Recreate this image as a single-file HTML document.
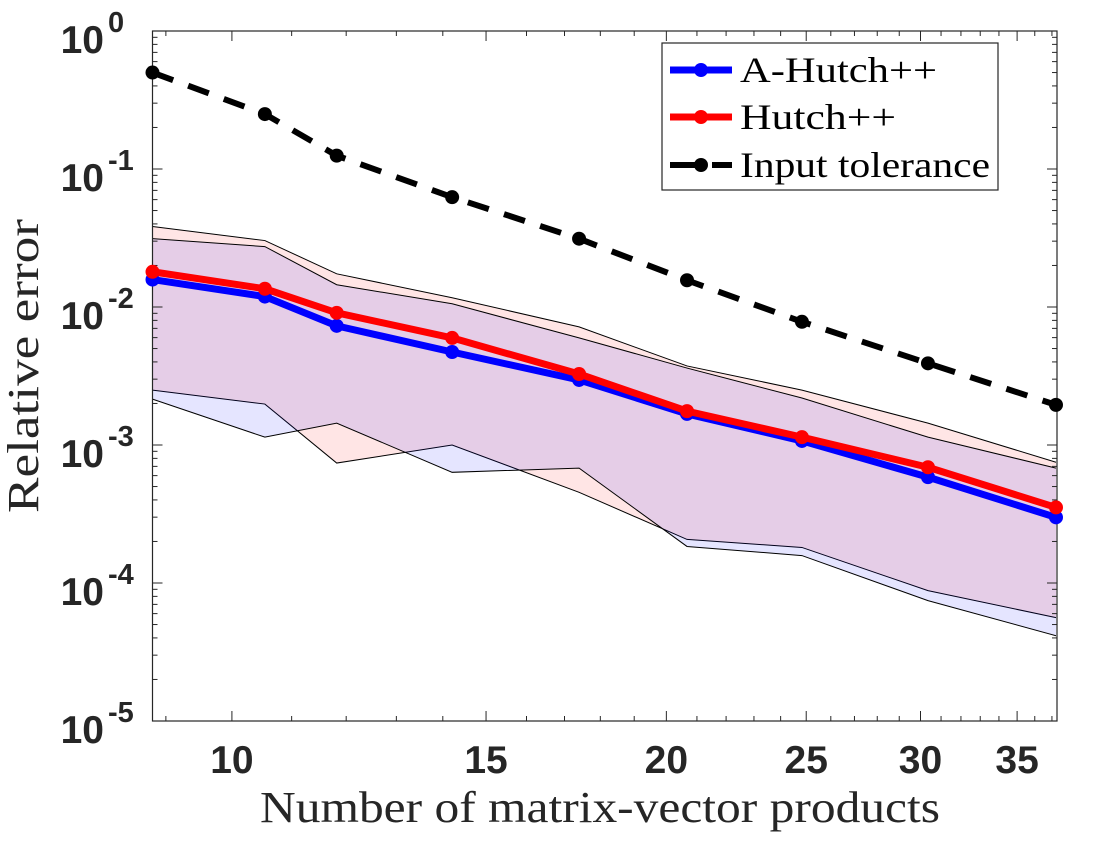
<!DOCTYPE html>
<html><head><meta charset="utf-8"><style>
body{margin:0;background:#fff}
svg text{font-family:"Liberation Sans",sans-serif}
.serif{font-family:"Liberation Serif",serif}
</style></head><body>
<svg id="chart" width="1120" height="840" xmlns="http://www.w3.org/2000/svg">
<g id="bands"></g><g id="axes"></g><g id="series"></g>
</svg>
<script>
const xValues=[8.81,10.54,11.82,14.21,17.40,20.67,24.83,30.36,37.24];
const aHutch=[0.0158,0.0119,0.0073,0.00472,0.00296,0.00168,0.00107,0.000585,0.000299];
const hutch=[0.0180,0.01356,0.00907,0.00597,0.00327,0.00176,0.00114,0.00069,0.000353];
const tolerance=[0.5,0.25,0.125,0.0625,0.03125,0.015625,0.0078125,0.00390625,0.001953125];
const hutchUpper=[0.0383,0.0303,0.0174,0.01167,0.00718,0.00374,0.00250,0.00144,0.00075];
const hutchLower=[0.00250,0.00198,0.00074,0.00100,0.000454,0.000207,0.000181,0.0000881,0.0000561];
const aHutchUpper=[0.0313,0.0274,0.0145,0.01055,0.00597,0.00361,0.00219,0.00114,0.00068];
const aHutchLower=[0.00215,0.00114,0.00144,0.000634,0.00068,0.000184,0.000158,0.0000745,0.0000415];
const xTicks=[10,15,20,25,30,35];
const yTickExps=[0,-1,-2,-3,-4,-5];

const L=152.5,R=1057,T=31,B=721;
const xMin=8.81,xMax=37.3;
function sx(v){return L+(Math.log10(v)-Math.log10(xMin))/(Math.log10(xMax)-Math.log10(xMin))*(R-L);}
function sy(v){return T+(-Math.log10(v))/5*(B-T);}
const NS='http://www.w3.org/2000/svg';
function mk(tag,attrs,parent){const e=document.createElementNS(NS,tag);for(const k in attrs)e.setAttribute(k,attrs[k]);parent.appendChild(e);return e;}
const bands=document.getElementById('bands'),axes=document.getElementById('axes'),series=document.getElementById('series');

function band(up,lo,color,name){
  let d='M'+xValues.map((x,i)=>sx(x)+','+sy(up[i])).join('L');
  d+='L'+xValues.map((x,i)=>sx(x)+','+sy(lo[i])).reverse().join('L')+'Z';
  const p=mk('path',{d:d,fill:color,'fill-opacity':0.1,stroke:'none'},bands);
  
  
  [up,lo].forEach(arr=>{
    const l=mk('polyline',{points:xValues.map((x,i)=>sx(x)+','+sy(arr[i])).join(' '),fill:'none',stroke:'#000','stroke-width':1},bands);
    
    
  });
}
band(hutchUpper,hutchLower,'#ff0000','hutch-band');
band(aHutchUpper,aHutchLower,'#0000ff','a-hutch-band');

const box=mk('rect',{x:L,y:T,width:R-L,height:B-T,fill:'none',stroke:'#262626','stroke-width':1.2},axes);


for(let v=9;v<=37;v++){
  const X=sx(v),maj=xTicks.includes(v),len=maj?10:5;
  mk('line',{x1:X,x2:X,y1:B,y2:B-len,stroke:'#262626','stroke-width':1},axes);
  mk('line',{x1:X,x2:X,y1:T,y2:T+len,stroke:'#262626','stroke-width':1},axes);
}
xTicks.forEach(v=>{
  const t=mk('text',{x:sx(v),y:773,'text-anchor':'middle','font-size':39,'font-weight':'bold',fill:'#262626'},axes);
  t.textContent=v;
  
  
});
for(let e=0;e>-5;e--){
  for(let m=1;m<10;m++){
    const Y=sy(m*Math.pow(10,e-1));const len=m===1?10:5;
    mk('line',{x1:L,x2:L+len,y1:Y,y2:Y,stroke:'#262626','stroke-width':1},axes);
    mk('line',{x1:R,x2:R-len,y1:Y,y2:Y,stroke:'#262626','stroke-width':1},axes);
  }
}
yTickExps.forEach(e=>{
  const Y=sy(Math.pow(10,e));
  const t=mk('text',{x:104,y:Y+22,'text-anchor':'end','font-size':39,'font-weight':'bold',fill:'#262626'},axes);
  t.textContent='10';
  
  
  const s=mk('text',{x:108,y:Y+1,'text-anchor':'start','font-size':29,'font-weight':'bold',fill:'#262626'},axes);
  s.textContent=String(e);
  
  
});
const xt=mk('text',{x:260,y:822,'font-size':44,fill:'#262626',class:'serif',textLength:680,lengthAdjust:'spacingAndGlyphs'},axes);
xt.textContent='Number of matrix-vector products';


const yt=mk('text',{x:0,y:0,'text-anchor':'middle','font-size':44,fill:'#262626',class:'serif',textLength:294,lengthAdjust:'spacingAndGlyphs',transform:'translate(38,366) rotate(-90)'},axes);
yt.textContent='Relative error';



function line(vals,color,name,dash){
  const attrs={points:xValues.map((x,i)=>sx(x)+','+sy(vals[i])).join(' '),fill:'none',stroke:color,'stroke-width':dash?6:7,'stroke-linejoin':'round'};
  if(dash)attrs['stroke-dasharray']='22,16';
  const l=mk('polyline',attrs,series);
  
  
  xValues.forEach((x,i)=>{
    const c=mk('circle',{cx:sx(x),cy:sy(vals[i]),r:7,fill:color},series);
    
    
  });
}
line(tolerance,'#000','input-tolerance',true);
line(aHutch,'#0000ff','a-hutch',false);
line(hutch,'#ff0000','hutch',false);
</script>
<svg style="position:absolute;left:0;top:0" width="1120" height="840">
<g>
<rect x="662" y="43" width="336" height="147" fill="#fff" stroke="#262626" stroke-width="1.2"/>
<g>
<line x1="670" y1="70" x2="732" y2="70" stroke="#0000ff" stroke-width="7"/><circle cx="701" cy="70" r="7" fill="#0000ff"/>
<text x="740" y="82" font-size="36" fill="#000" textLength="197" lengthAdjust="spacingAndGlyphs" style="font-family:'Liberation Serif',serif">A-Hutch++</text></g>
<g>
<line x1="670" y1="117" x2="732" y2="117" stroke="#ff0000" stroke-width="7"/><circle cx="701" cy="117" r="7" fill="#ff0000"/>
<text x="740" y="129" font-size="36" fill="#000" textLength="156" lengthAdjust="spacingAndGlyphs" style="font-family:'Liberation Serif',serif">Hutch++</text></g>
<g>
<line x1="670" y1="165" x2="732" y2="165" stroke="#000" stroke-width="6" stroke-dasharray="34,8,14,0"/><circle cx="701" cy="165" r="7" fill="#000"/>
<text x="740" y="177" font-size="36" fill="#000" textLength="250" lengthAdjust="spacingAndGlyphs" style="font-family:'Liberation Serif',serif">Input tolerance</text></g>
</g></svg>
</body></html>
